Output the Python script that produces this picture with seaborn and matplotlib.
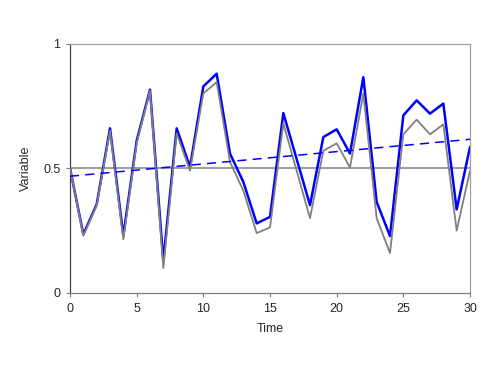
import numpy as np
import pandas as pd
import seaborn as sns
from matplotlib import pyplot as plt

time = list(range(31))
gray_vals = [0.50, 0.23, 0.35, 0.65, 0.215, 0.60, 0.81, 0.10, 0.64, 0.49, 0.80,
             0.845, 0.525, 0.41, 0.24, 0.263, 0.68, 0.49, 0.30, 0.57, 0.60,
             0.503, 0.80, 0.30, 0.16, 0.636, 0.695, 0.636, 0.676, 0.25, 0.49]
blue_vals = [0.50, 0.235, 0.355, 0.66, 0.23, 0.61, 0.815, 0.13, 0.66, 0.505, 0.828,
             0.879, 0.559, 0.445, 0.279, 0.305, 0.721, 0.537, 0.352, 0.625, 0.656,
             0.559, 0.865, 0.365, 0.228, 0.712, 0.772, 0.719, 0.759, 0.335, 0.585]
trend_t = [0, 30]
trend_vals = [0.468, 0.616]
ref_level = 0.5

df = pd.DataFrame({'Time': time, 'gray': gray_vals, 'blue': blue_vals})
trend = pd.DataFrame({'Time': trend_t, 'trend': trend_vals})

sns.set_style('white')
plt.rcParams['font.family'] = ['Liberation Sans', 'DejaVu Sans']

fig = plt.figure(figsize=(5, 3.75), dpi=100)
ax = fig.add_axes([0.14, 0.2187, 0.80, 0.6653])

ax.axhline(ref_level, color='#a0a0a0', lw=1.5, zorder=1)
sns.lineplot(data=df, x='Time', y='blue', color='#0000ff', lw=1.8, ax=ax, zorder=2)
sns.lineplot(data=df, x='Time', y='gray', color='#808080', lw=1.3, ax=ax, zorder=3)
sns.lineplot(data=trend, x='Time', y='trend', color='#0000ff', lw=1.1, ax=ax,
             zorder=4, linestyle=(0, (6, 4)))

ax.set_xlim(0, 30)
ax.set_ylim(0, 1)
ax.set_xticks(range(0, 31, 5))
ax.set_yticks([0, 0.5, 1])
ax.set_yticklabels(['0', '0.5', '1'])
ax.set_xlabel('Time', fontsize=9, labelpad=6)
ax.set_ylabel('Variable', fontsize=9, labelpad=8)
ax.tick_params(axis='both', direction='out', length=3, width=0.8, color='#808080',
               labelsize=9, pad=4, bottom=True, left=True)

ax.spines['left'].set_color('#404040')
ax.spines['bottom'].set_color('#808080')
for s in ['top', 'right']:
    ax.spines[s].set_color('#a0a0a0')
for s in ax.spines.values():
    s.set_linewidth(0.9)

plt.savefig('out.png', dpi=100)
